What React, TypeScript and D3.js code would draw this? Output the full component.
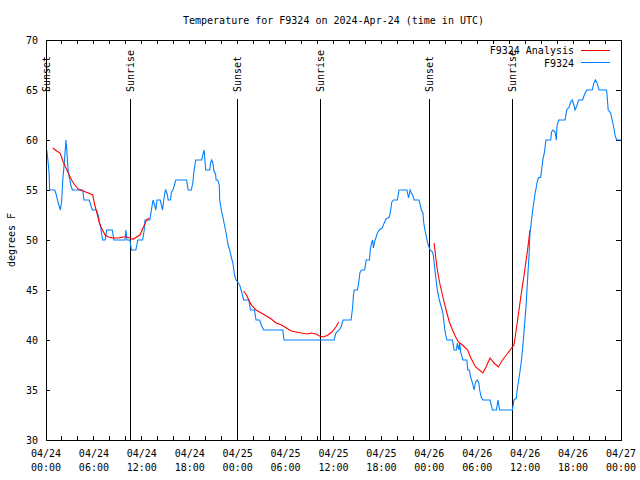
import React from "react";
import * as d3 from "d3";

// ---- data (hours since 2024-04-24 00:00 UTC) ----
const obsHours = [
  0.1, 0.3, 0.4, 0.45, 1.1, 1.3, 1.5, 1.8, 1.95, 2.1, 2.3, 2.5, 2.6, 2.7, 2.8, 3.0, 3.1, 3.3,
  4.6, 4.75, 5.4, 5.6, 5.8, 6.3, 6.6, 6.7, 6.85, 6.95, 7.1, 7.4, 7.6, 8.3, 8.5, 9.9, 10.0, 10.15,
  10.5, 10.7, 11.25, 11.5, 12.1, 12.3, 12.4, 13.0, 13.2, 13.4, 13.6, 13.75, 13.9, 14.3, 14.6, 14.75,
  14.9, 15.0, 15.2, 15.3, 15.6, 15.7, 15.9, 16.25, 17.6, 17.8, 18.2, 18.4, 18.5, 18.75, 19.5, 19.7,
  19.8, 19.9, 20.0, 20.5, 20.6, 20.75, 20.9, 21.0, 21.25, 21.3, 21.5, 21.7, 21.75, 21.95, 22.15,
  22.4, 22.6, 22.8, 23.0, 23.2, 23.4, 23.5, 23.6, 23.8, 24.0, 24.25, 24.5, 24.75, 25.4, 25.6, 26.1,
  26.3, 26.75, 26.95, 27.25, 29.65, 29.8, 36.1, 36.3, 36.7, 36.95, 37.2, 38.2, 38.4, 38.5, 38.6,
  39.0, 39.2, 39.3, 39.5, 39.9, 40.1, 40.5, 40.6, 40.8, 40.9, 41.0, 41.2, 41.3, 41.5, 41.75, 42.1,
  42.4, 42.6, 43.0, 43.2, 43.3, 43.5, 44.0, 44.2, 45.2, 45.4, 45.6, 45.7, 45.9, 46.1, 46.7, 46.8,
  47.0, 47.2, 47.3, 47.5, 47.7, 47.9, 48.1, 48.4, 48.5, 48.6, 48.8, 49.0, 49.25, 49.5, 49.7, 49.9,
  50.0, 50.2, 50.9, 51.1, 51.4, 51.5, 51.7, 51.8, 51.95, 52.2, 52.7, 52.8, 53.0, 53.2, 53.4, 53.6,
  53.8, 54.0, 54.2, 54.3, 54.5, 54.7, 55.6, 55.9, 56.4, 56.6, 56.8, 58.4, 58.6, 58.9, 59.0, 59.25,
  59.5, 59.7, 59.9, 60.1, 60.3, 60.5, 60.6, 60.7, 60.9, 61.0, 61.25, 61.4, 61.5, 61.65, 61.95, 62.1,
  62.25, 62.4, 62.6, 63.2, 63.3, 63.5, 63.75, 63.9, 64.0, 64.2, 65.0, 65.2, 65.5, 65.7, 65.9, 66.1,
  66.25, 66.5, 66.7, 67.2, 67.4, 67.7, 68.4, 68.6, 68.8, 69.0, 69.25, 70.2, 70.3, 70.4, 70.7, 70.9,
  71.1, 71.3, 71.5, 71.95,
];
const obsTemps = [
  59, 57.5, 56.5, 55, 55, 54.5, 53.8, 53, 53.8, 56, 57.8, 60, 59, 57.8, 56.7, 56, 55.5, 55,
  55, 54, 54, 53.5, 53, 53, 52.3, 51.7, 51.3, 50.7, 50, 50, 51, 51, 50, 50, 51, 50,
  50, 49, 49, 50, 50, 51, 52, 52, 53, 54, 53.5, 53, 54, 54, 53, 54,
  54.8, 55, 54.5, 54, 54, 54.8, 55, 56, 56, 55, 55, 55.8, 56.7, 58, 58, 58.7,
  59, 58, 57, 57, 57.7, 58, 57.7, 57, 56.5, 56, 56, 55.5, 54, 53, 52.3,
  51.3, 50.5, 49.5, 49, 48.3, 47.7, 47.1, 46.5, 46, 45.8, 45.5, 44.8, 44, 44, 43, 43,
  42, 42, 41.5, 41, 41, 40, 40, 40.7, 41, 41.3, 42, 42, 43.3, 44.5, 45,
  45, 46, 46.7, 47, 47, 48, 48, 49, 49.8, 50, 49.2, 50, 50.2, 50.7, 51, 51.2,
  51.8, 52.1, 52.3, 53.2, 53.8, 54, 54, 55, 55, 54.2, 55, 54.8, 54.5, 54, 54, 53.7,
  53, 52.7, 51.7, 50.8, 50, 49.4, 49, 48.8, 48.5, 47.7, 46.3, 45, 44, 43.3, 42.7, 41.3,
  40.7, 40, 40, 39, 39, 39.7, 39, 39.7, 38.7, 38, 38, 37, 37, 36.2, 35.7, 35,
  35.8, 36, 35.7, 35, 34.3, 34, 34, 33, 33, 34, 33, 33, 34, 34.2, 35, 36.3,
  37.7, 39.3, 41.3, 43.3, 46, 48.7, 50.7, 51.3, 52.7, 53.3, 54.7, 55.3, 55.8, 56.2, 56.3, 57.3,
  58.2, 58.7, 60, 60, 60.8, 61, 60.8, 60, 61.5, 62, 62, 63, 63.3, 63.8, 64, 63.5,
  63, 63.5, 64, 64, 64.5, 65, 65, 65.7, 66, 65.7, 65, 65, 64, 63, 62.7, 62,
  61.2, 60.3, 60, 60,
];

// analysis series, null marks a gap between runs
const anaHours = [
  0.85, 1.35, 1.75, 1.95, 2.15, 2.5, 2.8, 3.2, 3.6, 4.05, 4.65, 5.3, 5.85, 6.1, 6.35, 6.65, 6.95,
  7.4, 7.8, 8.4, 9.05, 9.65, 10.1, 10.5, 10.9, 11.35, 11.75, 12.15, 12.6, 12.9, null,
  24.75, 25.1, 25.4, 25.7, 26.3, 26.95, 27.6, 28.2, 28.8, 29.5, 30.1, 30.7, 31.3, 31.95, 32.7,
  33.2, 33.8, 34.25, 34.75, 35.3, 35.8, 36.3, 36.65, null,
  48.6, 48.8, 49.0, 49.3, 49.7, 50.1, 50.5, 50.9, 51.3, 51.65, 52.15, 52.8, 53.2, 53.8, 54.7,
  55.1, 55.6, 56.1, 56.65, 57.15, 57.65, 58.3, 58.6, 59.0, 59.45, 59.9, 60.3, 60.6,
];
const anaTemps = [
  59.2, 58.9, 58.7, 58.3, 57.8, 57.2, 56.7, 56, 55.5, 55.1, 54.9, 54.7, 54.5, 53.5, 52.8, 51.8, 51.2,
  50.5, 50.3, 50.2, 50.2, 50.3, 50.3, 50.2, 50.07, 50.3, 50.5, 51.2, 52, 52.2, null,
  44.9, 44.5, 44, 43.5, 43, 42.7, 42.4, 42.1, 41.7, 41.5, 41.2, 40.9, 40.8, 40.7, 40.6,
  40.7, 40.6, 40.4, 40.3, 40.5, 40.8, 41.3, 41.8, null,
  49.7, 48.3, 47, 45.7, 44.3, 43, 41.8, 41, 40.3, 39.8, 39.5, 39, 38.2, 37.3, 36.7,
  37.3, 38.2, 37.7, 37.3, 38, 38.5, 39.2, 39.5, 41.7, 44.3, 46.7, 49, 51,
];

const eventHours = [0.0, 10.55, 24.0, 34.4, 48.05, 58.4];
const eventNames = ["Sunset", "Sunrise", "Sunset", "Sunrise", "Sunset", "Sunrise"];

const yTicks = [30, 35, 40, 45, 50, 55, 60, 65, 70];
const xMinorTickHours = d3.range(0, 73, 2);
const xLabelHours = [0, 6, 12, 18, 24, 30, 36, 42, 48, 54, 60, 66, 72];
const xLabelDates = ["04/24", "04/24", "04/24", "04/24", "04/25", "04/25", "04/25", "04/25", "04/26", "04/26", "04/26", "04/26", "04/27"];
const xLabelTimes = ["00:00", "06:00", "12:00", "18:00", "00:00", "06:00", "12:00", "18:00", "00:00", "06:00", "12:00", "18:00", "00:00"];

const titleText = "Temperature for F9324 on 2024-Apr-24 (time in UTC)";
const yLabelText = "degrees F";
const seriesNames = ["F9324 Analysis", "F9324"];

const RED = "#ff0000";
const BLUE = "#0080ff";
const FONT = "'DejaVu Sans Mono', 'Liberation Mono', monospace";

export default function App() {
  const W = 640, H = 480;
  const L = 46, R = 621, T = 40, B = 440;
  const x = d3.scaleLinear().domain([0, 72]).range([L, R]);
  const y = d3.scaleLinear().domain([30, 70]).range([B, T]);

  const obsPts: [number, number][] = obsHours.map((h, i) => [h, obsTemps[i]]);
  const anaPts: [number | null, number | null][] = anaHours.map((h, i) => [h, anaTemps[i]]);

  const obsLine = d3.line<[number, number]>().x((d) => x(d[0])).y((d) => y(d[1]));
  const anaLine = d3
    .line<[number | null, number | null]>()
    .defined((d) => d[0] != null && d[1] != null)
    .x((d) => x(d[0] as number))
    .y((d) => y(d[1] as number));

  const tk = 4;

  return (
    <svg
      width={W}
      height={H}
      style={{ position: "absolute", left: 0, top: 0, background: "#fff" }}
      fontFamily={FONT}
      fontSize={10}
    >
      <rect x={0} y={0} width={W} height={H} fill="#fff" />
      <text x={(L + R) / 2} y={24} textAnchor="middle" fill="#000">
        {titleText}
      </text>

      {/* y ticks & labels */}
      {yTicks.map((v) => (
        <g key={"y" + v}>
          <line x1={L} x2={L + tk} y1={y(v)} y2={y(v)} stroke="#000" shapeRendering="crispEdges" />
          <line x1={R} x2={R - tk - 1} y1={y(v)} y2={y(v)} stroke="#000" shapeRendering="crispEdges" />
          <text x={38} y={y(v) + 3.5} textAnchor="end" fill="#000">
            {v}
          </text>
        </g>
      ))}

      {/* x ticks */}
      {xMinorTickHours.map((h) => (
        <g key={"xt" + h}>
          <line x1={x(h)} x2={x(h)} y1={B} y2={B - tk} stroke="#000" shapeRendering="crispEdges" />
          <line x1={x(h)} x2={x(h)} y1={T} y2={T + tk} stroke="#000" shapeRendering="crispEdges" />
        </g>
      ))}
      {xLabelHours.map((h, i) => (
        <g key={"xl" + h}>
          <text x={x(h)} y={457} textAnchor="middle" fill="#000">
            {xLabelDates[i]}
          </text>
          <text x={x(h)} y={471} textAnchor="middle" fill="#000">
            {xLabelTimes[i]}
          </text>
        </g>
      ))}

      <text
        transform={`translate(${15},${(T + B) / 2}) rotate(-90)`}
        textAnchor="middle"
        fill="#000"
      >
        {yLabelText}
      </text>

      {/* sunrise / sunset markers */}
      {eventHours.map((h, i) => (
        <g key={"ev" + i}>
          <line x1={x(h)} x2={x(h)} y1={99} y2={B} stroke="#000" shapeRendering="crispEdges" />
          <text
            transform={`translate(${x(h)},${92}) rotate(-90)`}
            dy="0.35em"
            textAnchor="start"
            fill="#000"
          >
            {eventNames[i]}
          </text>
        </g>
      ))}

      {/* data */}
      <path d={obsLine(obsPts) || ""} fill="none" stroke={BLUE} strokeWidth={1.1} />
      <path d={anaLine(anaPts) || ""} fill="none" stroke={RED} strokeWidth={1.1} />

      {/* legend */}
      <text x={574} y={54} textAnchor="end" fill="#000">
        {seriesNames[0]}
      </text>
      <line x1={581} x2={610} y1={50} y2={50} stroke={RED} shapeRendering="crispEdges" />
      <text x={574} y={66.5} textAnchor="end" fill="#000">
        {seriesNames[1]}
      </text>
      <line x1={581} x2={610} y1={62} y2={62} stroke={BLUE} shapeRendering="crispEdges" />

      {/* border */}
      <rect x={L} y={T} width={R - L} height={B - T} fill="none" stroke="#000" shapeRendering="crispEdges" />
    </svg>
  );
}
